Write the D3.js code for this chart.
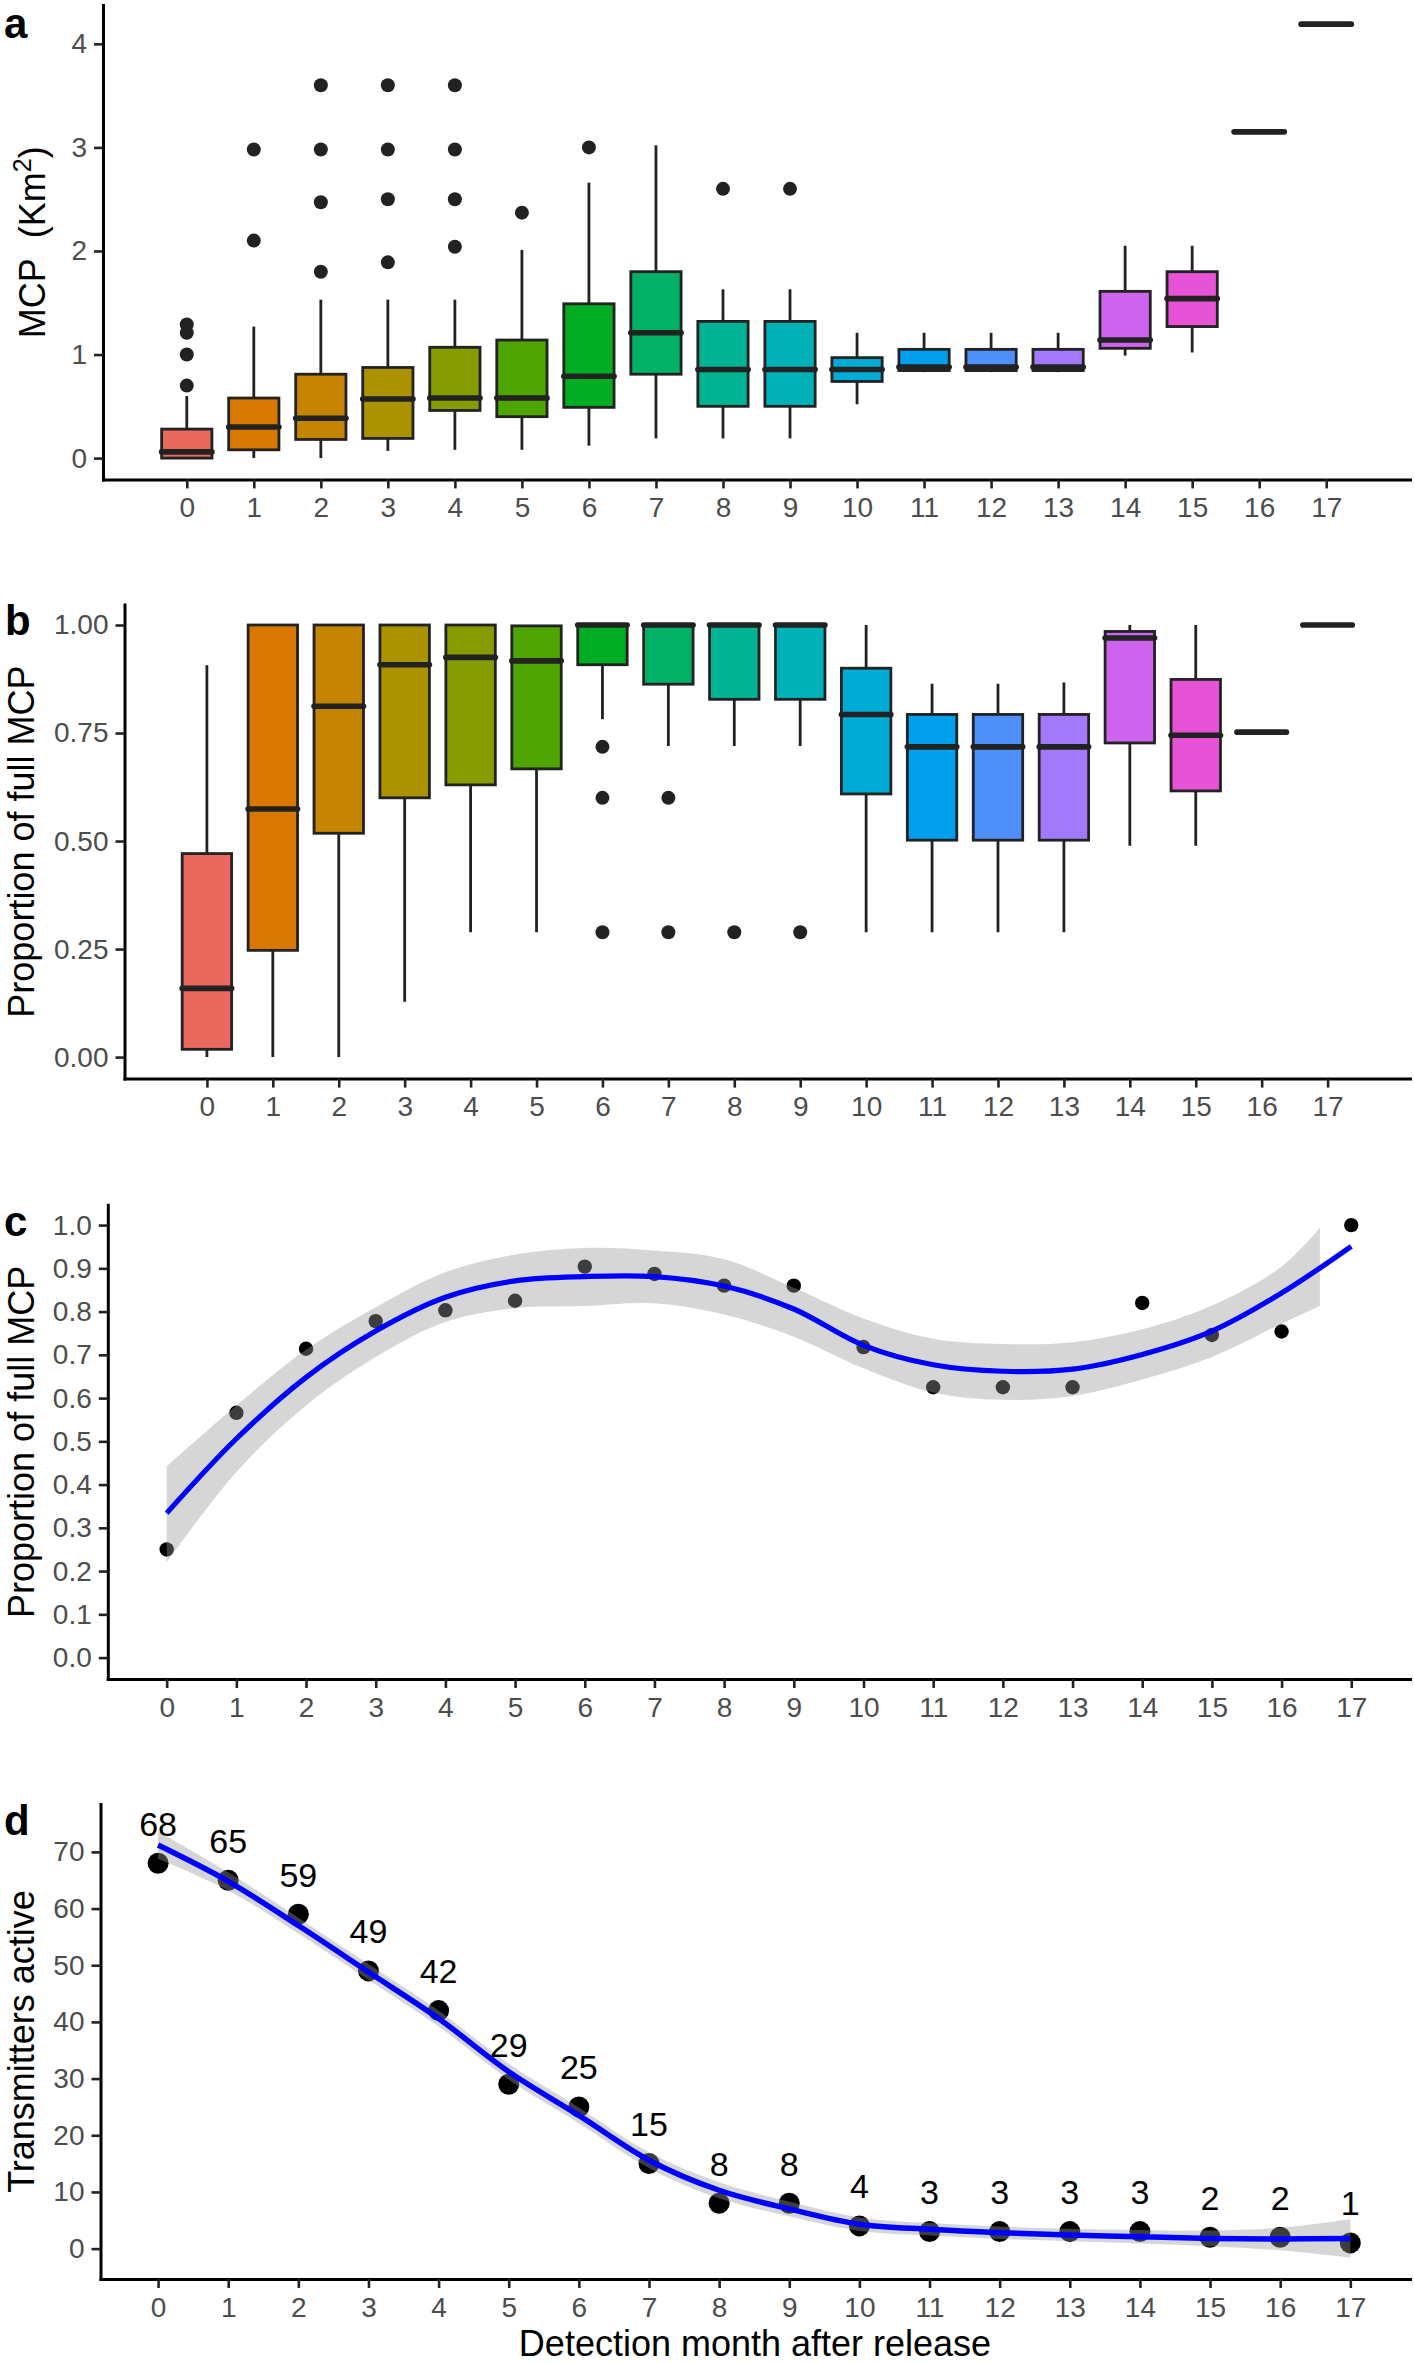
<!DOCTYPE html>
<html><head><meta charset="utf-8">
<script src="https://cdn.jsdelivr.net/npm/d3@7"></script>
<style>
body{margin:0;background:#fff;}
svg{display:block;background:#fff;}
</style>
</head><body>
<svg id="chart" width="1414" height="2363"></svg>
<script>
// ---------------- DATA ----------------
const months = [0,1,2,3,4,5,6,7,8,9,10,11,12,13,14,15,16,17];

// Panel a: MCP (Km2) boxplots
const aLow  = [0, 0, 0, 0.07, 0.08, 0.08, 0.12, 0.19, 0.19, 0.19, 0.52, 0.83, 0.83, 0.83, 0.99, 1.02, 3.15, 4.19];
const aQ1   = [0, 0.08, 0.18, 0.19, 0.46, 0.40, 0.49, 0.81, 0.50, 0.50, 0.74, 0.845, 0.845, 0.845, 1.06, 1.27, 3.15, 4.19];
const aMed  = [0.06, 0.30, 0.385, 0.57, 0.58, 0.58, 0.79, 1.21, 0.855, 0.855, 0.855, 0.88, 0.88, 0.88, 1.14, 1.54, 3.15, 4.19];
const aQ3   = [0.28, 0.58, 0.81, 0.875, 1.07, 1.14, 1.49, 1.80, 1.32, 1.32, 0.97, 1.05, 1.05, 1.05, 1.61, 1.80, 3.15, 4.19];
const aHigh = [0.60, 1.27, 1.53, 1.53, 1.53, 2.01, 2.66, 3.02, 1.63, 1.63, 1.21, 1.21, 1.21, 1.21, 2.05, 2.05, 3.15, 4.19];
const aOut  = [[0.70,1.00,1.21,1.29],[2.10,2.98],[1.80,2.47,2.98,3.60],[1.89,2.50,2.98,3.60],[2.04,2.50,2.98,3.60],
               [2.37],[3.00],[],[2.60],[2.60],[],[],[],[],[],[],[],[]];
const aTicks = [0,1,2,3,4];

// Panel b: proportion of full MCP boxplots
const bLow  = [0, 0, 0, 0.128, 0.289, 0.289, 0.782, 0.72, 0.72, 0.72, 0.289, 0.289, 0.289, 0.289, 0.489, 0.489, 0.752, 1.0];
const bQ1   = [0.018, 0.247, 0.518, 0.60, 0.63, 0.667, 0.908, 0.863, 0.828, 0.828, 0.609, 0.502, 0.502, 0.502, 0.727, 0.616, 0.752, 1.0];
const bMed  = [0.159, 0.574, 0.812, 0.908, 0.925, 0.917, 1.0, 1.0, 1.0, 1.0, 0.793, 0.718, 0.718, 0.718, 0.97, 0.745, 0.752, 1.0];
const bQ3   = [0.471, 1.0, 1.0, 1.0, 1.0, 0.998, 1.0, 1.0, 1.0, 1.0, 0.90, 0.793, 0.793, 0.793, 0.985, 0.874, 0.752, 1.0];
const bHigh = [0.907, 1.0, 1.0, 1.0, 1.0, 1.0, 1.0, 1.0, 1.0, 1.0, 1.0, 0.864, 0.864, 0.867, 1.0, 1.0, 0.752, 1.0];
const bOut  = [[],[],[],[],[],[],[0.718,0.60,0.289],[0.60,0.289],[0.289],[0.289],[],[],[],[],[],[],[],[]];
const bTicks = [0, 0.25, 0.5, 0.75, 1.0];

// Panel c: mean proportion per month + smoother
const cProp   = [0.25, 0.566, 0.714, 0.778, 0.803, 0.825, 0.904, 0.887, 0.860, 0.860, 0.718, 0.625, 0.625, 0.625, 0.820, 0.746, 0.754, 1.0];
const cFit    = [0.334, 0.506, 0.648, 0.755, 0.833, 0.871, 0.881, 0.881, 0.859, 0.806, 0.722, 0.677, 0.662, 0.667, 0.701, 0.755, 0.843, 0.951];
const cBandX  = [0,1,2,3,4,5,6,7,8,9,10,11,12,13,14,15,16,16.55];
const cBandHi = [0.442, 0.583, 0.712, 0.810, 0.891, 0.932, 0.947, 0.941, 0.921, 0.855, 0.784, 0.737, 0.725, 0.729, 0.759, 0.814, 0.904, 0.994];
const cBandLo = [0.220, 0.429, 0.583, 0.695, 0.776, 0.808, 0.813, 0.819, 0.793, 0.742, 0.669, 0.613, 0.596, 0.605, 0.643, 0.695, 0.772, 0.813];
const cTicks  = [0,0.1,0.2,0.3,0.4,0.5,0.6,0.7,0.8,0.9,1.0];

// Panel d: transmitters active
const dActive = [68,65,59,49,42,29,25,15,8,8,4,3,3,3,3,2,2,1];
const dFit    = [71.2, 64.8, 57.0, 48.8, 40.6, 31.2, 23.5, 15.6, 10.3, 7.0, 4.3, 3.4, 2.8, 2.4, 2.1, 1.8, 1.7, 1.8];
const dBandHi = [73.6, 66.4, 58.4, 50.2, 42.0, 32.6, 24.9, 17.0, 11.7, 8.3, 5.5, 4.5, 3.9, 3.5, 3.3, 3.2, 3.7, 5.2];
const dBandLo = [68.8, 63.2, 55.6, 47.4, 39.2, 29.8, 22.1, 14.2, 8.9, 5.7, 3.1, 2.3, 1.7, 1.3, 0.9, 0.4, -0.3, -1.6];
const dTicks  = [0,10,20,30,40,50,60,70];

// ---------------- STYLE HELPERS ----------------
const FONT = '"Liberation Sans", Arial, Helvetica, sans-serif';
function hclLuv(h, c, l) {
  const hr = h * Math.PI / 180;
  const u = c * Math.cos(hr), v = c * Math.sin(hr);
  const Y = l > 8 ? Math.pow((l + 16) / 116, 3) : l / 903.3;
  const Xn = 0.95047, Yn = 1.0, Zn = 1.08883;
  const den = Xn + 15 * Yn + 3 * Zn;
  const un = 4 * Xn / den, vn = 9 * Yn / den;
  const up = u / (13 * l) + un, vp = v / (13 * l) + vn;
  const X = Y * 9 * up / (4 * vp), Z = Y * (12 - 3 * up - 20 * vp) / (4 * vp);
  const r = 3.2404542 * X - 1.5371385 * Y - 0.4985314 * Z;
  const g = -0.9692660 * X + 1.8760108 * Y + 0.0415560 * Z;
  const b = 0.0556434 * X - 0.2040259 * Y + 1.0572252 * Z;
  const gam = t => { t = Math.max(0, Math.min(1, t)); return t <= 0.0031308 ? 12.92 * t : 1.055 * Math.pow(t, 1 / 2.4) - 0.055; };
  return d3.rgb(gam(r) * 255, gam(g) * 255, gam(b) * 255).formatHex();
}
const colors = months.map((m, i) => hclLuv(15 + i * 360 / months.length, 100, 60));

const svg = d3.select("#chart");
const RIGHT = 1410;

function makePanel(o) {
  const g = svg.append("g");
  const x = d3.scaleLinear().domain(o.xDom).range([o.left, RIGHT]);
  const y = d3.scaleLinear().domain(o.yDom).range([o.bottom, o.top]);
  return { g, x, y, o };
}

function drawAxes(p) {
  const o = p.o;
  const gx = p.g.append("g").attr("transform", `translate(0,${o.bottom})`)
    .call(d3.axisBottom(p.x).tickValues(months).tickFormat(d3.format("d"))
      .tickSize(9).tickSizeOuter(0).tickPadding(9));
  const gy = p.g.append("g").attr("transform", `translate(${o.left},0)`)
    .call(d3.axisLeft(p.y).tickValues(o.yTicks).tickFormat(o.fmt)
      .tickSize(9).tickSizeOuter(0).tickPadding(7));
  [gx, gy].forEach(a => {
    a.attr("font-family", FONT).attr("font-size", 28);
    a.select(".domain").attr("stroke", "#000").attr("stroke-width", 3).attr("stroke-linecap", "square");
    a.selectAll(".tick line").attr("stroke", "#222").attr("stroke-width", 2.6);
    a.selectAll(".tick text").attr("fill", "#4d4d4d");
  });
  const t = p.g.append("text")
    .attr("transform", `translate(${o.titleX},${(o.top + o.bottom) / 2}) rotate(-90)`)
    .attr("text-anchor", "middle").attr("font-family", FONT).attr("font-size", 36).attr("fill", "#000");
  if (o.titleParts) {
    o.titleParts.forEach(tp => {
      const s = t.append("tspan").text(tp.t);
      if (tp.sup) s.attr("font-size", 25).attr("baseline-shift", "super");
    });
  } else t.text(o.title);
  svg.append("text").attr("x", o.letterX).attr("y", o.letterY)
    .attr("font-family", FONT).attr("font-size", 42).attr("font-weight", "bold").attr("fill", "#000")
    .text(o.letter);
}

function drawBoxes(p, low, q1, med, q3, high, outs) {
  const bw = 0.75 * (p.x(1) - p.x(0));
  const rows = months.map((m, i) => ({ m, i, low: low[i], q1: q1[i], med: med[i], q3: q3[i], high: high[i], outs: outs[i] }));
  const g = p.g.append("g");
  g.selectAll("circle.out").data(rows.flatMap(r => r.outs.map(v => ({ m: r.m, v }))))
    .join("circle").attr("class", "out")
    .attr("cx", d => p.x(d.m)).attr("cy", d => p.y(d.v)).attr("r", 7).attr("fill", "#222");
  g.selectAll("line.wu").data(rows).join("line").attr("class", "wu")
    .attr("x1", d => p.x(d.m)).attr("x2", d => p.x(d.m))
    .attr("y1", d => p.y(d.high)).attr("y2", d => p.y(d.q3))
    .attr("stroke", "#222").attr("stroke-width", 2.8);
  g.selectAll("line.wl").data(rows).join("line").attr("class", "wl")
    .attr("x1", d => p.x(d.m)).attr("x2", d => p.x(d.m))
    .attr("y1", d => p.y(d.q1)).attr("y2", d => p.y(d.low))
    .attr("stroke", "#222").attr("stroke-width", 2.8);
  g.selectAll("rect.box").data(rows).join("rect").attr("class", "box")
    .attr("x", d => p.x(d.m) - bw / 2).attr("width", bw)
    .attr("y", d => p.y(d.q3)).attr("height", d => p.y(d.q1) - p.y(d.q3))
    .attr("fill", d => colors[d.i]).attr("stroke", "#222").attr("stroke-width", 2.8);
  g.selectAll("line.med").data(rows).join("line").attr("class", "med")
    .attr("x1", d => p.x(d.m) - bw / 2).attr("x2", d => p.x(d.m) + bw / 2)
    .attr("y1", d => p.y(d.med)).attr("y2", d => p.y(d.med))
    .attr("stroke", "#222").attr("stroke-width", 5.6).attr("stroke-linecap", "round");
}

// ---------------- PANEL A ----------------
const pa = makePanel({ left: 103, top: 5, bottom: 479.4, xDom: [-1.25, 18.25], yDom: [-0.2057, 4.375],
  yTicks: aTicks, fmt: d3.format("d"), titleX: 45, letter: "a", letterX: 4, letterY: 38,
  titleParts: [{ t: "MCP\u00a0\u00a0(Km" }, { t: "2", sup: true }, { t: ")" }] });
drawBoxes(pa, aLow, aQ1, aMed, aQ3, aHigh, aOut);
drawAxes(pa);

// ---------------- PANEL B ----------------
const pb = makePanel({ left: 124.5, top: 604.6, bottom: 1078.6, xDom: [-1.25, 18.25], yDom: [-0.0498, 1.0472],
  yTicks: bTicks, fmt: d3.format(".2f"), titleX: 34, title: "Proportion of full MCP", letter: "b", letterX: 5, letterY: 635 });
drawBoxes(pb, bLow, bQ1, bMed, bQ3, bHigh, bOut);
drawAxes(pb);

// ---------------- PANEL C ----------------
const pc = makePanel({ left: 107.8, top: 1204.8, bottom: 1679, xDom: [-0.845, 17.843], yDom: [-0.0495, 1.0469],
  yTicks: cTicks, fmt: d3.format(".1f"), titleX: 34, title: "Proportion of full MCP", letter: "c", letterX: 4, letterY: 1236 });
pc.g.selectAll("circle.pt").data(months).join("circle").attr("class", "pt")
  .attr("cx", d => pc.x(d)).attr("cy", (d, i) => pc.y(cProp[i])).attr("r", 7.2).attr("fill", "#000");
pc.g.append("path").datum(cBandX.map((x, i) => ({ x, lo: cBandLo[i], hi: cBandHi[i] })))
  .attr("d", d3.area().x(d => pc.x(d.x)).y0(d => pc.y(d.lo)).y1(d => pc.y(d.hi)).curve(d3.curveCatmullRom))
  .attr("fill", "#999999").attr("fill-opacity", 0.4);
pc.g.append("path").datum(months.map((m, i) => ({ x: m, y: cFit[i] })))
  .attr("d", d3.line().x(d => pc.x(d.x)).y(d => pc.y(d.y)).curve(d3.curveCatmullRom))
  .attr("fill", "none").attr("stroke", "#0000ff").attr("stroke-width", 5.2);
drawAxes(pc);

// ---------------- PANEL D ----------------
const pd = makePanel({ left: 100.5, top: 1804, bottom: 2279, xDom: [-0.821, 17.851], yDom: [-5.363, 78.45],
  yTicks: dTicks, fmt: d3.format("d"), titleX: 34, title: "Transmitters active", letter: "d", letterX: 4, letterY: 1835 });
pd.g.selectAll("circle.pt").data(months).join("circle").attr("class", "pt")
  .attr("cx", d => pd.x(d)).attr("cy", (d, i) => pd.y(dActive[i])).attr("r", 10.5).attr("fill", "#000");
pd.g.append("path").datum(months.map((m, i) => ({ x: m, lo: dBandLo[i], hi: dBandHi[i] })))
  .attr("d", d3.area().x(d => pd.x(d.x)).y0(d => pd.y(d.lo)).y1(d => pd.y(d.hi)).curve(d3.curveCatmullRom))
  .attr("fill", "#999999").attr("fill-opacity", 0.4);
pd.g.append("path").datum(months.map((m, i) => ({ x: m, y: dFit[i] })))
  .attr("d", d3.line().x(d => pd.x(d.x)).y(d => pd.y(d.y)).curve(d3.curveCatmullRom))
  .attr("fill", "none").attr("stroke", "#0000ff").attr("stroke-width", 5.5);
pd.g.selectAll("text.lbl").data(months).join("text").attr("class", "lbl")
  .attr("x", d => pd.x(d)).attr("y", (d, i) => pd.y(dActive[i]) - 27.5)
  .attr("text-anchor", "middle").attr("font-family", FONT).attr("font-size", 34).attr("fill", "#000")
  .text((d, i) => dActive[i]);
drawAxes(pd);
svg.append("text").attr("x", 755).attr("y", 2356).attr("text-anchor", "middle")
  .attr("font-family", FONT).attr("font-size", 36).attr("fill", "#000")
  .text("Detection month after release");
</script>
</body></html>
